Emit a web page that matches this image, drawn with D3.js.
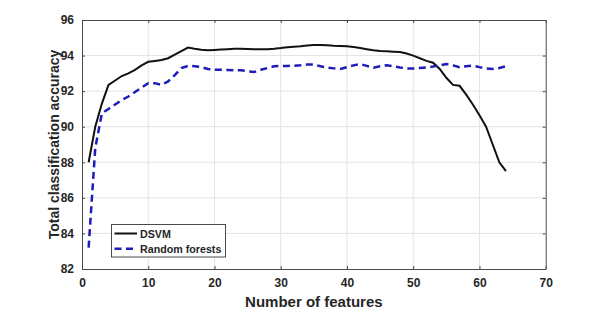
<!DOCTYPE html>
<html>
<head>
<meta charset="utf-8">
<script src="https://cdn.jsdelivr.net/npm/d3@7"></script>
<style>
  body { margin: 0; background: #fff; }
  text { font-family: "Liberation Sans", Arial, sans-serif; font-weight: bold; fill: #262626; }
</style>
</head>
<body>
<div id="chart"></div>
<script>
var svgWidth = 608, svgHeight = 323;

// number of features 1..64
var features = d3.range(1, 65);

var dsvm = [88.0, 90.0, 91.3, 92.35, 92.6, 92.85, 93.0, 93.2, 93.45, 93.65,
  93.7, 93.75, 93.85, 94.05, 94.25, 94.45, 94.38, 94.33, 94.3, 94.32,
  94.34, 94.36, 94.38, 94.38, 94.37, 94.35, 94.35, 94.36, 94.38, 94.42,
  94.47, 94.5, 94.52, 94.56, 94.59, 94.6, 94.58, 94.55, 94.54, 94.52,
  94.48, 94.42, 94.36, 94.3, 94.26, 94.24, 94.22, 94.2, 94.12, 94.0,
  93.85, 93.7, 93.6, 93.25, 92.75, 92.35, 92.3, 91.8, 91.25, 90.65,
  90.0, 89.0, 88.0, 87.5];

var randomForests = [83.2, 88.8, 90.75, 91.0, 91.25, 91.5, 91.7, 91.95, 92.2, 92.45,
  92.45, 92.35, 92.55, 92.9, 93.3, 93.42, 93.4, 93.35, 93.25, 93.2,
  93.2, 93.19, 93.18, 93.17, 93.12, 93.08, 93.2, 93.3, 93.4, 93.42,
  93.42, 93.43, 93.45, 93.5, 93.5, 93.4, 93.33, 93.28, 93.25, 93.35,
  93.45, 93.52, 93.42, 93.32, 93.4, 93.46, 93.4, 93.33, 93.28, 93.27,
  93.3, 93.33, 93.38, 93.45, 93.53, 93.45, 93.35, 93.4, 93.43, 93.35,
  93.28, 93.25, 93.3, 93.4];

var xTicks = [0, 10, 20, 30, 40, 50, 60, 70];
var yTicks = [82, 84, 86, 88, 90, 92, 94, 96];
var seriesNames = ["DSVM", "Random forests"];

var plotLeft = 82, plotRight = 545.7, plotTop = 20, plotBottom = 269;

var svg = d3.select("#chart")
  .append("svg")
  .attr("width", svgWidth)
  .attr("height", svgHeight);

var x = d3.scaleLinear().domain([0, 70]).range([plotLeft, plotRight]);
var y = d3.scaleLinear().domain([82, 96]).range([plotBottom, plotTop]);

// grid
svg.append("g")
  .selectAll("line")
  .data(xTicks.slice(1, -1))
  .enter().append("line")
  .attr("x1", d => x(d)).attr("x2", d => x(d))
  .attr("y1", plotTop).attr("y2", plotBottom)
  .attr("stroke", "#e3e3e3").attr("stroke-width", 1);

svg.append("g")
  .selectAll("line")
  .data(yTicks.slice(1, -1))
  .enter().append("line")
  .attr("x1", plotLeft).attr("x2", plotRight)
  .attr("y1", d => y(d)).attr("y2", d => y(d))
  .attr("stroke", "#e3e3e3").attr("stroke-width", 1);

// axes (ticks point inwards, box all round)
var axisColor = "#4a4a4a";
function styleAxis(g) {
  g.select(".domain").attr("stroke", axisColor);
  g.selectAll(".tick line").attr("stroke", axisColor);
  g.selectAll(".tick text")
    .attr("font-size", "12px")
    .attr("font-family", "Liberation Sans, Arial, sans-serif")
    .attr("font-weight", "bold")
    .attr("fill", "#262626");
}

svg.append("g")
  .attr("transform", "translate(0," + plotBottom + ")")
  .call(d3.axisBottom(x).tickValues(xTicks).tickSizeInner(-3).tickSizeOuter(0).tickPadding(9))
  .call(styleAxis);

svg.append("g")
  .attr("transform", "translate(0," + plotTop + ")")
  .call(d3.axisTop(x).tickValues(xTicks).tickSizeInner(-3).tickSizeOuter(0).tickFormat(""))
  .call(styleAxis);

svg.append("g")
  .attr("transform", "translate(" + plotLeft + ",0)")
  .call(d3.axisLeft(y).tickValues(yTicks).tickSizeInner(-3).tickSizeOuter(0).tickPadding(8))
  .call(styleAxis);

svg.append("g")
  .attr("transform", "translate(" + plotRight + ",0)")
  .call(d3.axisRight(y).tickValues(yTicks).tickSizeInner(-3).tickSizeOuter(0).tickFormat(""))
  .call(styleAxis);

// lines
var line = d3.line()
  .x((d, i) => x(features[i]))
  .y(d => y(d));

svg.append("path")
  .datum(dsvm)
  .attr("d", line)
  .attr("fill", "none")
  .attr("stroke", "#111")
  .attr("stroke-width", 2);

svg.append("path")
  .datum(randomForests)
  .attr("d", line)
  .attr("fill", "none")
  .attr("stroke", "#1c1cb8")
  .attr("stroke-width", 2.5)
  .attr("stroke-dasharray", "7,4.5");

// axis titles
svg.append("text")
  .attr("x", (plotLeft + plotRight) / 2)
  .attr("y", 307)
  .attr("text-anchor", "middle")
  .attr("font-size", "15px")
  .text("Number of features");

svg.append("text")
  .attr("transform", "translate(59," + ((plotTop + plotBottom) / 2) + ") rotate(-90)")
  .attr("text-anchor", "middle")
  .attr("font-size", "14px")
  .text("Total classification accuracy");

// legend
var legend = svg.append("g");
legend.append("rect")
  .attr("x", 111.5).attr("y", 224.5)
  .attr("width", 114).attr("height", 32.5)
  .attr("fill", "#fff")
  .attr("stroke", "#4a4a4a").attr("stroke-width", 1);

var legendStyles = [
  { stroke: "#111", width: 2, dash: null },
  { stroke: "#1c1cb8", width: 2.5, dash: "7,4.5" }
];

var items = legend.selectAll("g.item")
  .data(seriesNames)
  .enter().append("g")
  .attr("transform", (d, i) => "translate(0," + (233.5 + i * 15.3) + ")");

items.append("line")
  .attr("x1", 114.5).attr("x2", 137)
  .attr("y1", 0).attr("y2", 0)
  .attr("stroke", (d, i) => legendStyles[i].stroke)
  .attr("stroke-width", (d, i) => legendStyles[i].width)
  .attr("stroke-dasharray", (d, i) => legendStyles[i].dash);

items.append("text")
  .attr("x", 140)
  .attr("y", 4)
  .attr("font-size", "10.7px")
  .text(d => d);
</script>
</body>
</html>
